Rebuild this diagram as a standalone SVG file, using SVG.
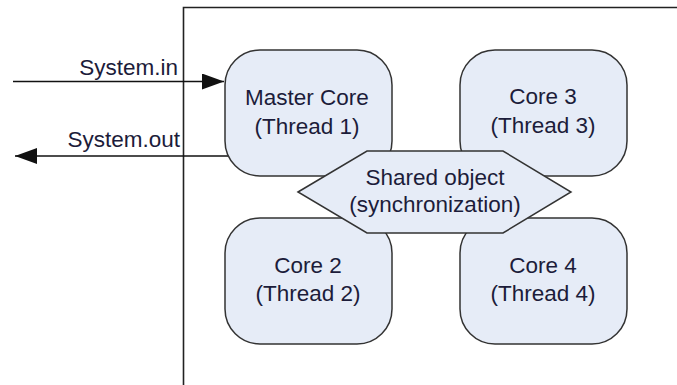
<svg xmlns="http://www.w3.org/2000/svg" width="677" height="385" viewBox="0 0 677 385">
  <style>
    .frame { fill: none; stroke: #222; stroke-width: 1.6; }
    .core { fill: #e6ecf7; stroke: #333; stroke-width: 1.5; }
    .label { font-family: "Liberation Sans", Arial, sans-serif; font-size: 22.5px; fill: #1c1c3a; }
    .mid { text-anchor: middle; }
    .end { text-anchor: end; }
    .wire { fill: none; stroke: #111; stroke-width: 1.6; }
  </style>
  <defs>
    <marker id="head" viewBox="0 0 22 16" refX="22" refY="8" markerWidth="22" markerHeight="16" markerUnits="userSpaceOnUse" orient="auto">
      <path d="M0,0 L22,8 L0,16 Z" fill="#111"/>
    </marker>
  </defs>

  <rect width="677" height="385" fill="#ffffff"/>

  <!-- enclosing boundary (only left and top edges fall inside the view) -->
  <path class="frame" d="M183.5,385 V7.5 H677"/>

  <!-- connectors -->
  <g id="connectors">
    <line class="wire" x1="13" y1="81.5" x2="224" y2="81.5" marker-end="url(#head)"/>
    <line class="wire" x1="240" y1="156" x2="15" y2="156" marker-end="url(#head)"/>
    <text class="label end" x="178" y="75">System.in</text>
    <text class="label end" x="180" y="147">System.out</text>
  </g>

  <g id="master-core">
    <rect class="core" x="225" y="50" width="167" height="126" rx="35" ry="35"/>
    <text class="label mid" x="307" y="105">Master Core</text>
    <text class="label mid" x="307" y="134">(Thread 1)</text>
  </g>

  <g id="core-3">
    <rect class="core" x="460" y="50" width="167" height="126" rx="35" ry="35"/>
    <text class="label mid" x="543" y="104">Core 3</text>
    <text class="label mid" x="543" y="133">(Thread 3)</text>
  </g>

  <g id="core-2">
    <rect class="core" x="225" y="218" width="167" height="126" rx="35" ry="35"/>
    <text class="label mid" x="308" y="273">Core 2</text>
    <text class="label mid" x="308" y="301">(Thread 2)</text>
  </g>

  <g id="core-4">
    <rect class="core" x="460" y="218" width="167" height="126" rx="35" ry="35"/>
    <text class="label mid" x="543" y="273">Core 4</text>
    <text class="label mid" x="543" y="301">(Thread 4)</text>
  </g>

  <g id="shared-object">
    <polygon class="core" points="298,192 367,151 503,151 571,192 503,233 367,233"/>
    <text class="label mid" x="435" y="185">Shared object</text>
    <text class="label mid" x="435" y="212">(synchronization)</text>
  </g>
</svg>
